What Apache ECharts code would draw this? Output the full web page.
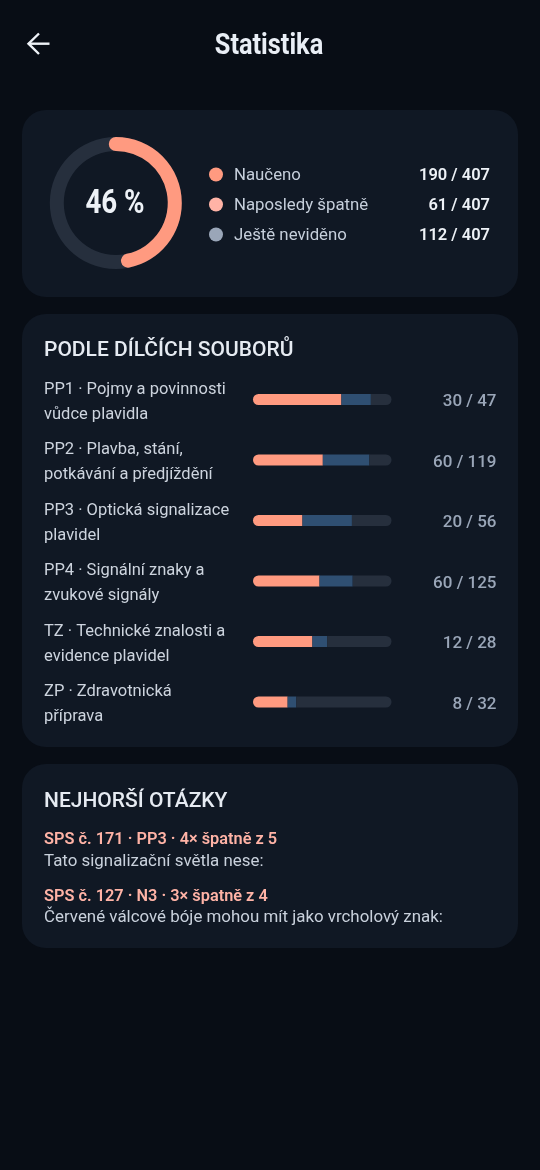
<!DOCTYPE html>
<html><head><meta charset="utf-8">
<style>html,body{margin:0;padding:0;background:#080d15}#c{width:540px;height:1170px}</style>
<script src="https://cdn.jsdelivr.net/npm/echarts@6/dist/echarts.min.js"></script>
</head><body><div id="c"></div>
<script>
const subsetLabels=["PP1 · Pojmy a povinnosti\nvůdce plavidla","PP2 · Plavba, stání,\npotkávání a předjíždění","PP3 · Optická signalizace\nplavidel","PP4 · Signální znaky a\nzvukové signály","TZ · Technické znalosti a\nevidence plavidel","ZP · Zdravotnická\npříprava"];
const learned=[30,60,20,60,12,8];
const wrong=[10,40,20,30,3,2];
const totals=[47,119,56,125,28,32];
const legendNames=["Naučeno","Naposledy špatně","Ještě neviděno"];
const legendValues=[190,61,112];
const legendColors=["#ff9a80","#ffb3a6","#9aa6b8"];
const grandTotal=407;
const percentLabel="46 %";
const worstTitles=["SPS č. 171 · PP3 · 4× špatně z 5","SPS č. 127 · N3 · 3× špatně z 4"];
const worstTexts=["Tato signalizační světla nese:","Červené válcové bóje mohou mít jako vrcholový znak:"];

const FONT="Roboto, sans-serif";
const share=(a)=>a.map((v,i)=>v/totals[i]);
const unseen=totals.map((t,i)=>t-learned[i]-wrong[i]);
const txt=(x,y,text,size,fill,weight,align,sx)=>({type:'text',x,y,scaleX:sx||1,z:5,style:{text,fontSize:size,fill,fontWeight:weight||400,fontFamily:FONT,align:align||'left',verticalAlign:'middle'}});
const card=(y,h)=>({type:'rect',shape:{x:22,y,width:496,height:h,r:24},style:{fill:'#101824'},z:-10});

const g=[card(110,187),card(314,433),card(764,184)];
g.push({type:'polyline',shape:{points:[[39,33.5],[28.5,43.7],[39,54]]},style:{stroke:'#eef2f7',lineWidth:2.4,fill:null}});
g.push({type:'line',shape:{x1:28.5,y1:43.7,x2:49.5,y2:43.7},style:{stroke:'#eef2f7',lineWidth:2.4}});
g.push(txt(269,46,"Statistika",30,'#e9eef5',700,'center',0.845));
g.push(txt(115,205,percentLabel,33,'#eef2f7',700,'center',0.84));
legendNames.forEach((n,i)=>{
  const y=174.5+30*i;
  g.push({type:'circle',shape:{cx:216,cy:y,r:7},style:{fill:legendColors[i]}});
  g.push(txt(234,y+1.5,n,16.8,'#c6cfdb',400));
  g.push(txt(490,y+1.5,legendValues[i]+" / "+grandTotal,17,'#eef2f7',600,'right',0.97));
});
g.push(txt(44,351,"PODLE DÍLČÍCH SOUBORŮ",21,'#e6ebf2',500));
g.push(txt(44,802,"NEJHORŠÍ OTÁZKY",21,'#e6ebf2',500));
worstTitles.forEach((t,i)=>{
  const y=840+56.5*i;
  g.push(txt(44,y,t,17,'#ffb3a6',600,'left',0.96));
  g.push(txt(44,y+21.5,worstTexts[i],16.9,'#c9d1dc',400));
});

const chart=echarts.init(document.getElementById('c'),null,{renderer:'canvas',width:540,height:1170});
chart.setOption({
  backgroundColor:'#080d15',animation:false,
  graphic:{elements:g},
  grid:[
    {left:253,top:369.25,width:138.5,height:363},
    {left:253,top:371.75,width:138.5,height:363}
  ],
  xAxis:[
    {type:'value',gridIndex:0,min:0,max:1,show:false},
    {type:'value',gridIndex:1,min:0,max:1,show:false}
  ],
  yAxis:[
    {type:'category',gridIndex:0,inverse:true,data:subsetLabels,show:false},
    {type:'category',gridIndex:1,inverse:true,data:subsetLabels,axisLine:{show:false},axisTick:{show:false},
     axisLabel:{align:'left',margin:209,fontSize:16.5,lineHeight:25,color:'#cdd4de',fontFamily:FONT}},
    {type:'category',gridIndex:1,inverse:true,position:'right',data:totals.map((t,i)=>learned[i]+" / "+t),axisLine:{show:false},axisTick:{show:false},
     axisLabel:{align:'right',margin:105,fontSize:17,fontWeight:500,color:'#9aa6b8',fontFamily:FONT}}
  ],
  series:[
    {type:'bar',stack:'s',barWidth:11,data:share(learned),itemStyle:{color:'#ff9a80',borderRadius:[5.5,0,0,5.5]}},
    {type:'bar',stack:'s',barWidth:11,data:share(wrong),itemStyle:{color:'#2f4f72'}},
    {type:'bar',stack:'s',barWidth:11,data:share(unseen),itemStyle:{color:'#262f3d',borderRadius:[0,5.5,5.5,0]}},
    {type:'gauge',center:[115.8,203],radius:66,startAngle:90,endAngle:-270,min:0,max:grandTotal,
     pointer:{show:false},axisTick:{show:false},splitLine:{show:false},axisLabel:{show:false},title:{show:false},detail:{show:false},
     axisLine:{lineStyle:{width:14,color:[[1,'#262f3d']]}},
     progress:{show:true,roundCap:true,width:14,itemStyle:{color:'#ff9a80'}},
     data:[{value:legendValues[0]}]}
  ]
});
</script></body></html>
